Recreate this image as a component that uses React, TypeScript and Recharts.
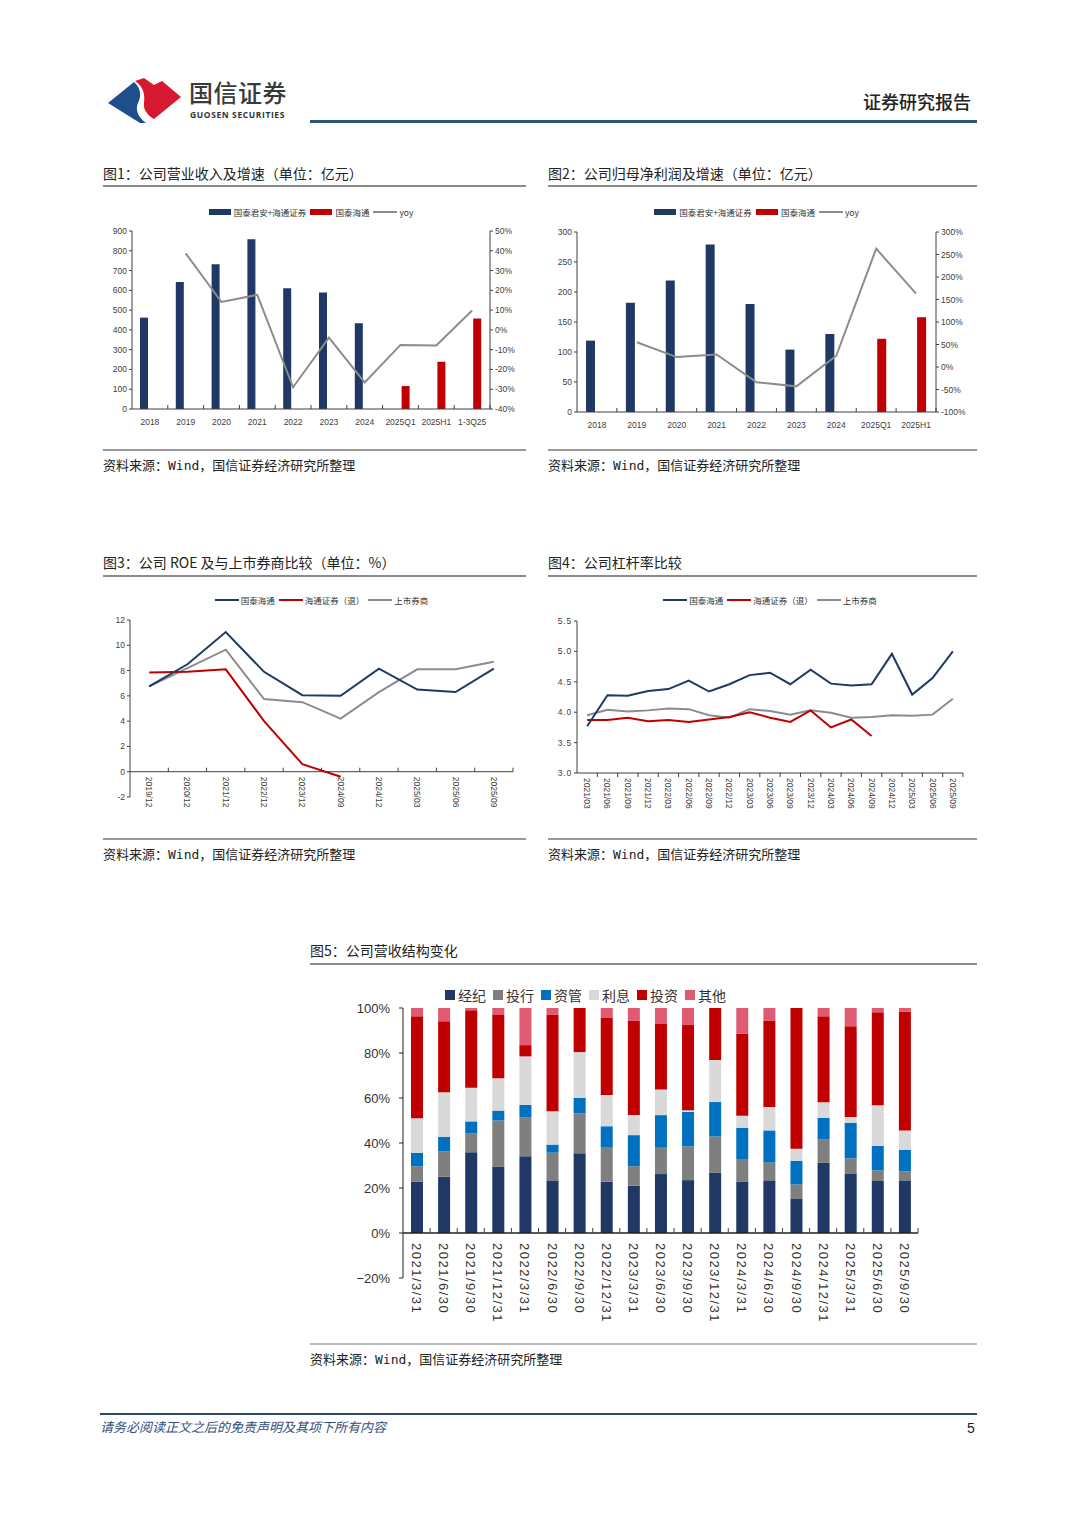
import React from "react";
import { ComposedChart, BarChart, Bar, Line, XAxis, YAxis, ReferenceLine } from "recharts";

const NAVY = "#1f3864";
const RED = "#c00000";
const GREY = "#8c8c8c";
const AXIS = "#404040";
const NUM = "'Liberation Sans', Arial, sans-serif";
const CJK = "'Noto Sans CJK SC', 'Noto Sans', sans-serif";
const MONO = "'DejaVu Sans Mono', 'Noto Sans CJK SC', monospace";

// 图1 营业收入
const revCats = ["2018", "2019", "2020", "2021", "2022", "2023", "2024", "2025Q1", "2025H1", "1-3Q25"];
const revOld = [462, 642, 732, 858, 611, 589, 433, null, null, null];
const revNew = [null, null, null, null, null, null, null, 116, 239, 458];
const revYoy = [null, 38.7, 14.1, 17.7, -29.0, -3.9, -26.6, -7.6, -7.9, 9.8];
const revTicks = [0, 100, 200, 300, 400, 500, 600, 700, 800, 900];
const revYoyTicks = [-40, -30, -20, -10, 0, 10, 20, 30, 40, 50];

// 图2 归母净利润
const npCats = ["2018", "2019", "2020", "2021", "2022", "2023", "2024", "2025Q1", "2025H1"];
const npOld = [119, 182, 219, 279, 180, 104, 130, null, null];
const npNew = [null, null, null, null, null, null, null, 122, 158];
const npYoy = [null, 55, 22, 28, -34, -43, 25, 263, 163];
const npTicks = [0, 50, 100, 150, 200, 250, 300];
const npYoyTicks = [-100, -50, 0, 50, 100, 150, 200, 250, 300];

// 图3 ROE
const roeCats = ["2019/12", "2020/12", "2021/12", "2022/12", "2023/12", "2024/09", "2024/12", "2025/03", "2025/06", "2025/09"];
const roeGth = [6.75, 8.5, 11.05, 7.9, 6.05, 6.0, 8.15, 6.5, 6.3, 8.15];
const roeHt = [7.85, 7.9, 8.1, 4.0, 0.6, -0.4, null, null, null, null];
const roeMkt = [6.75, 8.2, 9.65, 5.75, 5.5, 4.2, 6.3, 8.1, 8.1, 8.7];
const roeTicks = [-2, 0, 2, 4, 6, 8, 10, 12];

// 图4 杠杆率
const levCats = ["2021/03", "2021/06", "2021/09", "2021/12", "2022/03", "2022/06", "2022/09", "2022/12", "2023/03", "2023/06", "2023/09", "2023/12", "2024/03", "2024/06", "2024/09", "2024/12", "2025/03", "2025/06", "2025/09"];
const levGth = [3.77, 4.28, 4.27, 4.35, 4.38, 4.52, 4.34, 4.46, 4.61, 4.65, 4.46, 4.70, 4.47, 4.44, 4.46, 4.96, 4.29, 4.56, 5.0];
const levHt = [3.87, 3.87, 3.91, 3.85, 3.87, 3.84, 3.88, 3.92, 4.0, 3.91, 3.84, 4.03, 3.75, 3.88, 3.61, null, null, null, null];
const levMkt = [3.95, 4.04, 4.01, 4.03, 4.06, 4.05, 3.95, 3.91, 4.05, 4.02, 3.96, 4.03, 3.99, 3.91, 3.92, 3.95, 3.94, 3.96, 4.22];
const levTicks = [3.0, 3.5, 4.0, 4.5, 5.0, 5.5];

// 图5 营收结构
const mixCats = ["2021/3/31", "2021/6/30", "2021/9/30", "2021/12/31", "2022/3/31", "2022/6/30", "2022/9/30", "2022/12/31", "2023/3/31", "2023/6/30", "2023/9/30", "2023/12/31", "2024/3/31", "2024/6/30", "2024/9/30", "2024/12/31", "2025/3/31", "2025/6/30", "2025/9/30"];
const mixBroker = [22.8, 25.0, 35.9, 29.4, 34.1, 23.4, 35.4, 22.8, 21.0, 26.2, 23.5, 26.9, 22.9, 23.4, 15.1, 31.2, 26.5, 23.1, 23.4];
const mixIb = [6.8, 11.3, 8.5, 20.6, 17.4, 12.3, 17.8, 15.4, 8.7, 11.7, 15.0, 16.0, 9.7, 7.9, 6.5, 10.3, 6.7, 4.7, 4.0];
const mixAm = [6.0, 6.5, 5.2, 4.4, 5.4, 3.6, 6.8, 9.2, 13.8, 14.5, 15.3, 15.3, 14.2, 14.3, 10.5, 9.7, 15.8, 10.9, 9.5];
const mixInt = [15.4, 19.8, 15.0, 14.4, 21.6, 14.8, 20.4, 13.9, 8.9, 11.4, 0.8, 18.7, 5.3, 10.4, 5.4, 6.9, 2.6, 18.1, 8.7];
const mixInv = [45.3, 31.5, 34.4, 28.1, 5.0, 43.0, 19.6, 34.3, 42.0, 29.1, 37.8, 23.1, 36.6, 38.4, 62.5, 38.2, 40.3, 41.3, 52.9];
const mixOther = [3.7, 5.9, 1.0, 3.1, 16.5, 2.9, 0, 4.4, 5.6, 7.1, 7.6, 0, 11.3, 5.6, 0, 3.7, 8.1, 1.9, 1.5];
const mixTicks = [-20, 0, 20, 40, 60, 80, 100];
const mixSeries = [
  { key: "broker", name: "经纪", color: "#1f3864", values: mixBroker },
  { key: "ib", name: "投行", color: "#7f7f7f", values: mixIb },
  { key: "am", name: "资管", color: "#0070c0", values: mixAm },
  { key: "int", name: "利息", color: "#d9d9d9", values: mixInt },
  { key: "inv", name: "投资", color: "#c00000", values: mixInv },
  { key: "other", name: "其他", color: "#e05a72", values: mixOther },
];

const fig1Data = revCats.map((c, i) => ({ cat: c, old: revOld[i], now: revNew[i], yoy: revYoy[i] }));
const fig2Data = npCats.map((c, i) => ({ cat: c, old: npOld[i], now: npNew[i], yoy: npYoy[i] }));
const fig3Data = roeCats.map((c, i) => ({ cat: c, gth: roeGth[i], ht: roeHt[i], mkt: roeMkt[i] }));
const fig4Data = levCats.map((c, i) => ({ cat: c, gth: levGth[i], ht: levHt[i], mkt: levMkt[i] }));
const fig5Data = mixCats.map((c, i) => {
  const row: any = { cat: c };
  mixSeries.forEach((s) => (row[s.key] = s.values[i]));
  return row;
});

type TickOpts = {
  band: number;
  dir: number; // 1 = mark upwards, -1 = downwards
  len: number;
  lift?: number;
  rotate?: boolean;
  gap: number;
  size: number;
  spacing?: number;
  color?: string;
};

function makeBandTick(o: TickOpts) {
  return (p: any) => {
    const { x, y, payload } = p;
    const ay = y - (o.lift || 0);
    const bx = x + o.band / 2;
    const ty = ay + o.gap;
    return (
      <g>
        <line x1={bx} x2={bx} y1={ay} y2={ay - o.dir * o.len} stroke={AXIS} strokeWidth={1} />
        {o.rotate ? (
          <text
            x={x}
            y={ty}
            transform={`rotate(90 ${x} ${ty})`}
            textAnchor="start"
            dominantBaseline="central"
            fontSize={o.size}
            fontFamily={NUM}
            fill={o.color || AXIS}
            letterSpacing={o.spacing || 0}
          >
            {payload.value}
          </text>
        ) : (
          <text x={x} y={ty} textAnchor="middle" dominantBaseline="central" fontSize={o.size} fontFamily={NUM} fill={AXIS}>
            {payload.value}
          </text>
        )}
      </g>
    );
  };
}

type LegendItem = { label: string; color: string; kind: "rect" | "line" | "square" };

function Legend({ items, left, top, width, size, gap }: { items: LegendItem[]; left: number; top: number; width: number; size: number; gap: number }) {
  return (
    <div style={{ position: "absolute", left, top, width, display: "flex", justifyContent: "center", alignItems: "center", fontSize: size, lineHeight: `${size + 4}px`, color: "#333", fontFamily: CJK, whiteSpace: "nowrap" }}>
      {items.map((it, i) => (
        <div key={i} style={{ display: "flex", alignItems: "center", marginLeft: i ? gap : 0 }}>
          {it.kind === "rect" && <span style={{ width: 22, height: 6, background: it.color, marginRight: 3 }} />}
          {it.kind === "line" && <span style={{ width: 24, height: 2, background: it.color, marginRight: 2 }} />}
          {it.kind === "square" && <span style={{ width: 10, height: 10, background: it.color, marginRight: 3 }} />}
          <span>{it.label}</span>
        </div>
      ))}
    </div>
  );
}

const smallTick = { fontSize: 8.5, fill: AXIS, fontFamily: NUM };

function Fig1() {
  const band = 358 / revCats.length;
  return (
    <div style={{ position: "absolute", left: 100, top: 215 }}>
      <ComposedChart width={430} height={220} data={fig1Data} margin={{ top: 16, right: 4, left: 4, bottom: 6 }} barSize={8} barGap={3}>
        <XAxis dataKey="cat" height={20} tickSize={0} tickMargin={0} stroke={AXIS} interval={0} tick={makeBandTick({ band, dir: 1, len: 4, gap: 13, size: 8.5 })} />
        <YAxis yAxisId="l" width={28} domain={[0, 900]} ticks={revTicks} tick={smallTick} tickSize={3} stroke={AXIS} interval={0} />
        <YAxis yAxisId="r" orientation="right" width={36} domain={[-40, 50]} ticks={revYoyTicks} tick={smallTick} tickSize={3} stroke={AXIS} interval={0} tickFormatter={(v: number) => `${v}%`} />
        <Bar yAxisId="l" dataKey="old" fill={NAVY} isAnimationActive={false} />
        <Bar yAxisId="l" dataKey="now" fill={RED} isAnimationActive={false} />
        <Line yAxisId="r" dataKey="yoy" stroke={GREY} strokeWidth={2} dot={false} isAnimationActive={false} />
      </ComposedChart>
    </div>
  );
}

function Fig2() {
  const band = 359 / npCats.length;
  return (
    <div style={{ position: "absolute", left: 545, top: 215 }}>
      <ComposedChart width={430} height={225} data={fig2Data} margin={{ top: 17, right: 4, left: 4, bottom: 8 }} barSize={9} barGap={3}>
        <XAxis dataKey="cat" height={20} tickSize={0} tickMargin={0} stroke={AXIS} interval={0} tick={makeBandTick({ band, dir: 1, len: 4, gap: 13, size: 8.5 })} />
        <YAxis yAxisId="l" width={28} domain={[0, 300]} ticks={npTicks} tick={smallTick} tickSize={3} stroke={AXIS} interval={0} />
        <YAxis yAxisId="r" orientation="right" width={35} domain={[-100, 300]} ticks={npYoyTicks} tick={smallTick} tickSize={3} stroke={AXIS} interval={0} tickFormatter={(v: number) => `${v}%`} />
        <Bar yAxisId="l" dataKey="old" fill={NAVY} isAnimationActive={false} />
        <Bar yAxisId="l" dataKey="now" fill={RED} isAnimationActive={false} />
        <Line yAxisId="r" dataKey="yoy" stroke={GREY} strokeWidth={2} dot={false} isAnimationActive={false} />
      </ComposedChart>
    </div>
  );
}

function Fig3() {
  const plotH = 230 - 25 - 6 - 22;
  const lift = ((0 - -2) / 14) * plotH;
  const band = 383 / roeCats.length;
  return (
    <div style={{ position: "absolute", left: 100, top: 595 }}>
      <ComposedChart width={430} height={230} data={fig3Data} margin={{ top: 25, right: 17, left: 4, bottom: 6 }}>
        <XAxis dataKey="cat" scale="band" height={22} tickSize={0} tickMargin={0} axisLine={false} interval={0} tick={makeBandTick({ band, dir: 1, len: 4, lift, gap: 5, size: 8.5, rotate: true })} />
        <YAxis width={26} domain={[-2, 12]} ticks={roeTicks} tick={smallTick} tickSize={3} stroke={AXIS} interval={0} />
        <ReferenceLine y={0} stroke={AXIS} />
        <Line dataKey="mkt" stroke={GREY} strokeWidth={2} dot={false} isAnimationActive={false} />
        <Line dataKey="ht" stroke={RED} strokeWidth={2} dot={false} isAnimationActive={false} />
        <Line dataKey="gth" stroke={NAVY} strokeWidth={2} dot={false} isAnimationActive={false} />
      </ComposedChart>
    </div>
  );
}

function Fig4() {
  const band = 386 / levCats.length;
  return (
    <div style={{ position: "absolute", left: 545, top: 595 }}>
      <ComposedChart width={430} height={230} data={fig4Data} margin={{ top: 26, right: 12, left: 4, bottom: 6 }}>
        <XAxis dataKey="cat" scale="band" height={46} tickSize={0} tickMargin={0} stroke={AXIS} interval={0} tick={makeBandTick({ band, dir: -1, len: 4, gap: 5, size: 8.5, rotate: true })} />
        <YAxis width={28} domain={[3, 5.5]} ticks={levTicks} tick={{ ...smallTick, letterSpacing: 0.8 }} tickSize={3} stroke={AXIS} interval={0} tickFormatter={(v: number) => v.toFixed(1)} />
        <Line dataKey="mkt" stroke={GREY} strokeWidth={2} dot={false} isAnimationActive={false} />
        <Line dataKey="ht" stroke={RED} strokeWidth={2} dot={false} isAnimationActive={false} />
        <Line dataKey="gth" stroke={NAVY} strokeWidth={2} dot={false} isAnimationActive={false} />
      </ComposedChart>
    </div>
  );
}

function Fig5() {
  const plotH = 340 - 23 - 6 - 41;
  const lift = ((0 - -20) / 120) * plotH;
  const band = 515 / mixCats.length;
  return (
    <div style={{ position: "absolute", left: 350, top: 985 }}>
      <BarChart width={590} height={340} data={fig5Data} margin={{ top: 23, right: 22, left: 4, bottom: 6 }} barSize={12}>
        <XAxis dataKey="cat" height={41} tickSize={0} tickMargin={0} axisLine={false} interval={0} tick={makeBandTick({ band, dir: 1, len: 5, lift, gap: 10, size: 13, rotate: true, spacing: 1.5, color: "#333" })} />
        <YAxis width={49} domain={[-20, 100]} ticks={mixTicks} tick={{ fontSize: 13, fill: "#333", fontFamily: NUM }} tickSize={4} tickMargin={9} stroke="#222" interval={0} tickFormatter={(v: number) => `${v < 0 ? "\u2212" + Math.abs(v) : v}%`} />
        {mixSeries.map((s) => (
          <Bar key={s.key} dataKey={s.key} stackId="mix" fill={s.color} isAnimationActive={false} />
        ))}
        <ReferenceLine y={0} stroke="#222" strokeWidth={1.5} />
      </BarChart>
    </div>
  );
}

function Txt({ left, top, size, children, style }: { left: number; top: number; size: number; children: React.ReactNode; style?: React.CSSProperties }) {
  return (
    <div style={{ position: "absolute", left, top, fontSize: size, lineHeight: `${size + 4}px`, whiteSpace: "nowrap", ...style }}>{children}</div>
  );
}

function Rule({ left, top, width, height, color }: { left: number; top: number; width: number; height: number; color: string }) {
  return <div style={{ position: "absolute", left, top, width, height, background: color }} />;
}

const source = "资料来源：Wind，国信证券经济研究所整理";

export default function App() {
  const barLegend: LegendItem[] = [
    { label: "国泰君安+海通证券", color: NAVY, kind: "rect" },
    { label: "国泰海通", color: RED, kind: "rect" },
    { label: "yoy", color: GREY, kind: "line" },
  ];
  const lineLegend: LegendItem[] = [
    { label: "国泰海通", color: NAVY, kind: "line" },
    { label: "海通证券（退）", color: RED, kind: "line" },
    { label: "上市券商", color: GREY, kind: "line" },
  ];
  const mixLegend: LegendItem[] = mixSeries.map((s) => ({ label: s.name, color: s.color, kind: "square" as const }));

  return (
    <div style={{ position: "absolute", left: 0, top: 0, width: 1080, height: 1527, background: "#fff", fontFamily: CJK, color: "#222", overflow: "hidden" }}>
      {/* header */}
      <svg style={{ position: "absolute", left: 104, top: 75 }} width={80} height={50}>
        <path d="M4,28 L30,7 C38,14 37,22 34,28 C31,35 34,42 42,48 L36,48 Z" fill="#1f4e8c" />
        <path d="M31,6 L40,3 L50,10 L58,6 L77,22 L50,44 C43,40 39,34 40,28 C41,20 40,12 31,6 Z" fill="#d7192f" />
      </svg>
      <Txt left={189} top={78} size={24} style={{ fontWeight: 500, color: "#3a3a3a", letterSpacing: 0.5 }}>国信证券</Txt>
      <Txt left={190} top={109} size={8.5} style={{ fontWeight: 700, color: "#333", fontFamily: "'Open Sans', sans-serif", letterSpacing: 0.6 }}>GUOSEN SECURITIES</Txt>
      <Txt left={863} top={90} size={18} style={{ fontWeight: 500, color: "#222" }}>证券研究报告</Txt>
      <Rule left={310} top={120} width={667} height={3} color="#2e5576" />

      {/* fig 1 & 2 */}
      <Txt left={103} top={164} size={14}>图1：公司营业收入及增速（单位：亿元）</Txt>
      <Rule left={103} top={185} width={423} height={2} color="#8c8c8c" />
      <Txt left={548} top={164} size={14}>图2：公司归母净利润及增速（单位：亿元）</Txt>
      <Rule left={548} top={185} width={429} height={2} color="#8c8c8c" />
      <Legend items={barLegend} left={132} top={206} width={358} size={8.5} gap={4} />
      <Legend items={barLegend} left={577} top={206} width={359} size={8.5} gap={4} />
      <Fig1 />
      <Fig2 />
      <Rule left={103} top={449} width={423} height={1.5} color="#999" />
      <Rule left={548} top={449} width={429} height={1.5} color="#999" />
      <Txt left={103} top={457} size={13} style={{ fontFamily: MONO }}>{source}</Txt>
      <Txt left={548} top={457} size={13} style={{ fontFamily: MONO }}>{source}</Txt>

      {/* fig 3 & 4 */}
      <Txt left={103} top={553} size={14}>图3：公司 ROE 及与上市券商比较（单位：%）</Txt>
      <Rule left={103} top={575} width={423} height={2} color="#8c8c8c" />
      <Txt left={548} top={553} size={14}>图4：公司杠杆率比较</Txt>
      <Rule left={548} top={575} width={429} height={2} color="#8c8c8c" />
      <Legend items={lineLegend} left={130} top={594} width={383} size={8.5} gap={4} />
      <Legend items={lineLegend} left={577} top={594} width={386} size={8.5} gap={4} />
      <Fig3 />
      <Fig4 />
      <Rule left={103} top={838} width={423} height={1.5} color="#999" />
      <Rule left={548} top={838} width={429} height={1.5} color="#999" />
      <Txt left={103} top={846} size={13} style={{ fontFamily: MONO }}>{source}</Txt>
      <Txt left={548} top={846} size={13} style={{ fontFamily: MONO }}>{source}</Txt>

      {/* fig 5 */}
      <Txt left={310} top={941} size={14}>图5：公司营收结构变化</Txt>
      <Rule left={310} top={963} width={667} height={2} color="#8c8c8c" />
      <Legend items={mixLegend} left={403} top={986} width={365} size={14} gap={7} />
      <Fig5 />
      <Rule left={310} top={1343} width={667} height={1.5} color="#bbb" />
      <Txt left={310} top={1351} size={13} style={{ fontFamily: MONO }}>{source}</Txt>

      {/* page footer */}
      <Rule left={100} top={1413} width={877} height={1.5} color="#2e4a6a" />
      <Txt left={100} top={1418} size={13} style={{ fontStyle: "italic", color: "#34507a" }}>请务必阅读正文之后的免责声明及其项下所有内容</Txt>
      <Txt left={967} top={1419} size={14} style={{ fontFamily: NUM, color: "#222" }}>5</Txt>
    </div>
  );
}
